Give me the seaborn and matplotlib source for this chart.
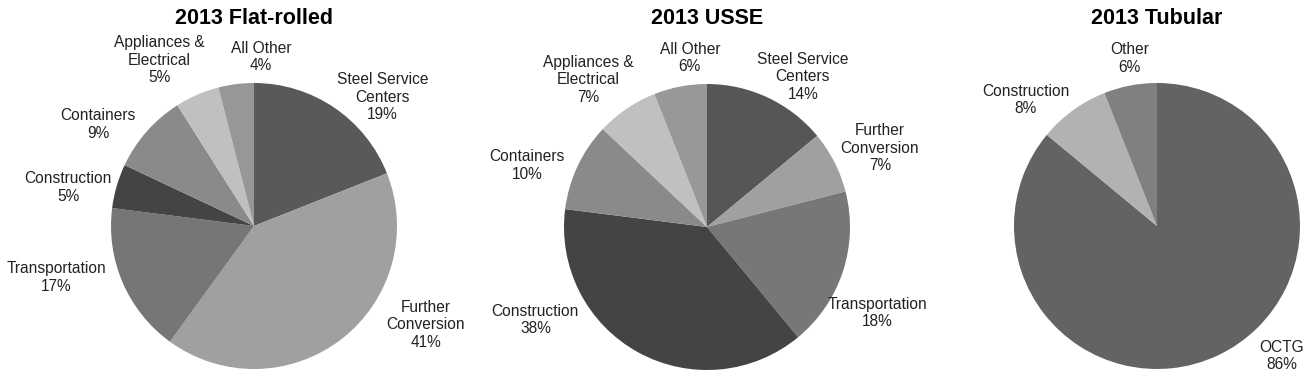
import matplotlib
matplotlib.use("Agg")
import matplotlib.pyplot as plt
import seaborn as sns

# data (percent of shipments, clockwise from 12 o'clock)
flat_labels = ["Steel Service\nCenters", "Further\nConversion", "Transportation",
               "Construction", "Containers", "Appliances &\nElectrical", "All Other"]
flat_values = [19, 41, 17, 5, 9, 5, 4]
flat_colors = ["#595959", "#a0a0a0", "#767676", "#444444", "#8a8a8a", "#c0c0c0", "#979797"]

usse_labels = ["Steel Service\nCenters", "Further\nConversion", "Transportation",
               "Construction", "Containers", "Appliances &\nElectrical", "All Other"]
usse_values = [14, 7, 18, 38, 10, 7, 6]
usse_colors = ["#565656", "#a0a0a0", "#777777", "#444444", "#8a8a8a", "#c0c0c0", "#989898"]

tub_labels = ["OCTG", "Construction", "Other"]
tub_values = [86, 8, 6]
tub_colors = ["#636363", "#b2b2b2", "#808080"]

# label anchors in pie-radius units (layout, "best fit" style like the original)
flat_label_xy = [(0.90, 0.90), (1.20, -0.69), (-1.38, -0.36), (-1.30, 0.27),
                 (-1.09, 0.71), (-0.66, 1.16), (0.05, 1.18)]
usse_label_xy = [(0.67, 1.05), (1.21, 0.55), (1.19, -0.60), (-1.20, -0.65),
                 (-1.26, 0.43), (-0.83, 1.03), (-0.12, 1.18)]
tub_label_xy = [(0.87, -0.91), (-0.92, 0.88), (-0.19, 1.17)]

sns.set_style("white")
plt.rcParams["font.family"] = ["Liberation Sans", "DejaVu Sans"]

W, H = 1314, 377
fig = plt.figure(figsize=(W / 100, H / 100), dpi=100)
fig.patch.set_facecolor("white")

R = 143  # pie radius in pixels


def draw_pie(cx, cy, title, labels, values, colors, label_xy):
    ax = fig.add_axes([(cx - R) / W, 1 - (cy + R) / H, 2 * R / W, 2 * R / H])
    ax.pie(values, colors=colors, startangle=90, counterclock=False,
           wedgeprops=dict(linewidth=0), radius=1)
    ax.set_xlim(-1, 1)
    ax.set_ylim(-1, 1)
    ax.set_aspect("equal")
    ax.axis("off")
    for lab, v, (x, y) in zip(labels, values, label_xy):
        ax.text(x, y, f"{lab}\n{v}%", ha="center", va="center", fontsize=11.2,
                color="#222222", linespacing=1.2, clip_on=False)
    fig.text(cx / W, 1 - 18 / H, title, ha="center", va="center",
             fontsize=15.5, fontweight="bold", color="black")


draw_pie(254, 226, "2013 Flat-rolled", flat_labels, flat_values, flat_colors, flat_label_xy)
draw_pie(707, 227, "2013 USSE", usse_labels, usse_values, usse_colors, usse_label_xy)
draw_pie(1157, 226, "2013 Tubular", tub_labels, tub_values, tub_colors, tub_label_xy)

fig.savefig("out.png", dpi=100, facecolor="white")
